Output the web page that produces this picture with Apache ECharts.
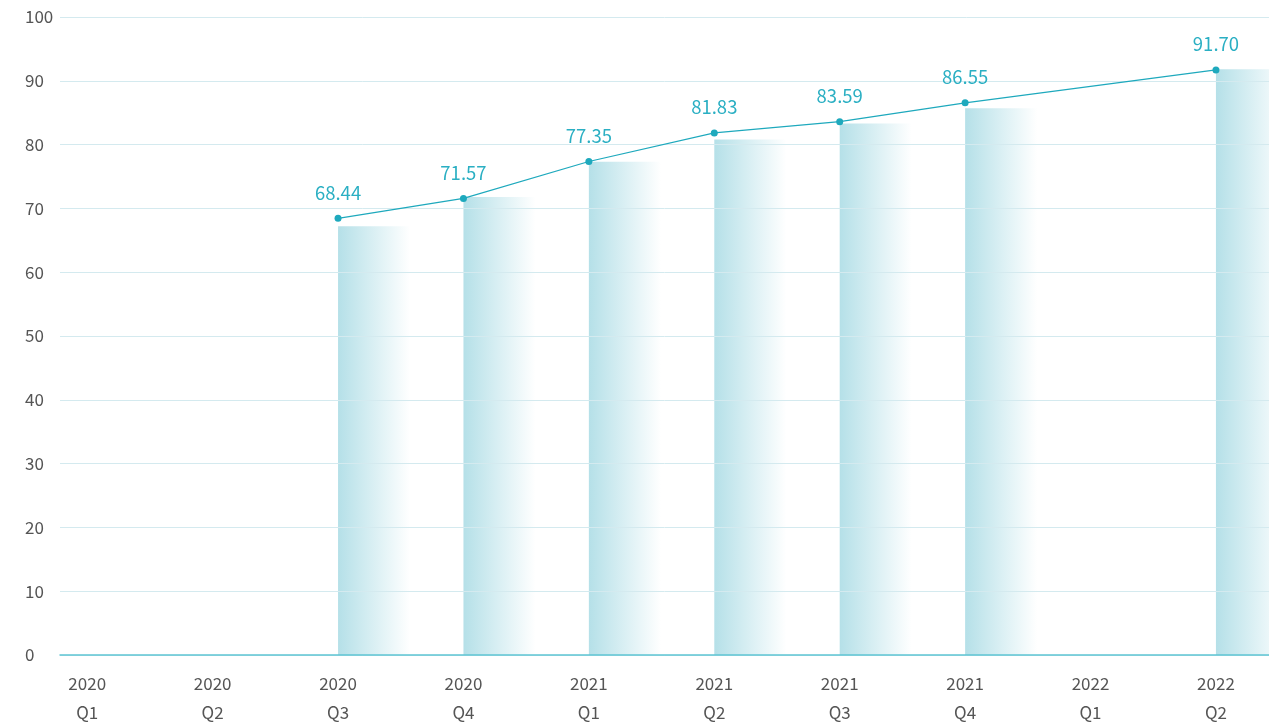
<!DOCTYPE html>
<html>
<head>
<meta charset="utf-8">
<style>
  html, body { margin: 0; padding: 0; background: #fff; }
  #chart { width: 1273px; height: 728px; }
</style>
<script src="https://cdn.jsdelivr.net/npm/echarts@6/dist/echarts.min.js"></script>
</head>
<body>
<div id="chart"></div>
<script>
// Quarter labels (two lines: year / quarter)
const years = ['2020', '2020', '2020', '2020', '2021', '2021', '2021', '2021', '2022', '2022'];
const quarters = ['Q1', 'Q2', 'Q3', 'Q4', 'Q1', 'Q2', 'Q3', 'Q4', 'Q1', 'Q2'];

// Labelled line values (null = no data)
const lineValues = [null, null, 68.44, 71.57, 77.35, 81.83, 83.59, 86.55, null, 91.70];
// Shaded column values
const barValues = [null, null, 67.2, 71.8, 77.3, 80.8, 83.3, 85.7, null, 91.8];

// Y axis ticks
const yMin = 0, yMax = 100, yStep = 10;

const font = '"Noto Sans CJK SC", "Noto Sans", sans-serif';
const teal = '#1ea9bd';

const idx = years.map((_, i) => i);
const pairs = (vals) => vals.map((v, i) => [i, v]).filter(p => p[1] !== null);

const chart = echarts.init(document.getElementById('chart'), null, { renderer: 'canvas' });

chart.setOption({
  animation: false,
  backgroundColor: '#fff',
  textStyle: { fontFamily: font },
  grid: { left: 60, right: 4, top: 17, bottom: 73, containLabel: false },
  // keep the last column inside the plot area on the right
  graphic: [{
    type: 'rect',
    right: 0,
    top: 0,
    z: 100,
    shape: { width: 4, height: 728 },
    style: { fill: '#fff' },
    silent: true
  }],
  xAxis: {
    type: 'value',
    min: -0.217,
    max: 9.423,
    z: 4,
    splitLine: { show: false },
    axisTick: { show: false },
    axisLine: { show: true, lineStyle: { color: '#5fc5d4', width: 1.5 } },
    axisLabel: {
      show: true,
      customValues: idx,
      margin: 14,
      color: '#555',
      fontSize: 17,
      lineHeight: 29,
      fontFamily: font,
      formatter: (v) => years[v] + '\n' + quarters[v]
    }
  },
  yAxis: {
    type: 'value',
    min: yMin,
    max: yMax,
    interval: yStep,
    z: 3,
    axisLine: { show: false },
    axisTick: { show: false },
    splitLine: { show: true, lineStyle: { color: '#d4eaef', width: 1 } },
    axisLabel: {
      color: '#555',
      fontSize: 17,
      fontFamily: font,
      align: 'left',
      margin: 35
    }
  },
  series: [
    {
      // empty companion column so the shaded column starts at the category point
      type: 'bar',
      barWidth: 72,
      barGap: '0%',
      clip: true,
      data: pairs(barValues).map(p => [p[0], 0]),
      itemStyle: { color: 'rgba(0,0,0,0)' },
      silent: true
    },
    {
      type: 'bar',
      barWidth: 72,
      barGap: '0%',
      clip: true,
      data: pairs(barValues),
      itemStyle: {
        color: new echarts.graphic.LinearGradient(0, 0, 1, 0, [
          { offset: 0, color: '#b5e0e8' },
          { offset: 1, color: 'rgba(255,255,255,1)' }
        ])
      }
    },
    {
      type: 'line',
      data: pairs(lineValues),
      z: 5,
      symbol: 'circle',
      symbolSize: 7,
      lineStyle: { color: teal, width: 1.2 },
      itemStyle: { color: teal },
      label: {
        show: true,
        position: 'top',
        distance: 13,
        color: '#2aafc3',
        fontSize: 18.5,
        fontFamily: font,
        formatter: (p) => p.value[1].toFixed(2)
      }
    }
  ]
});
</script>
</body>
</html>
